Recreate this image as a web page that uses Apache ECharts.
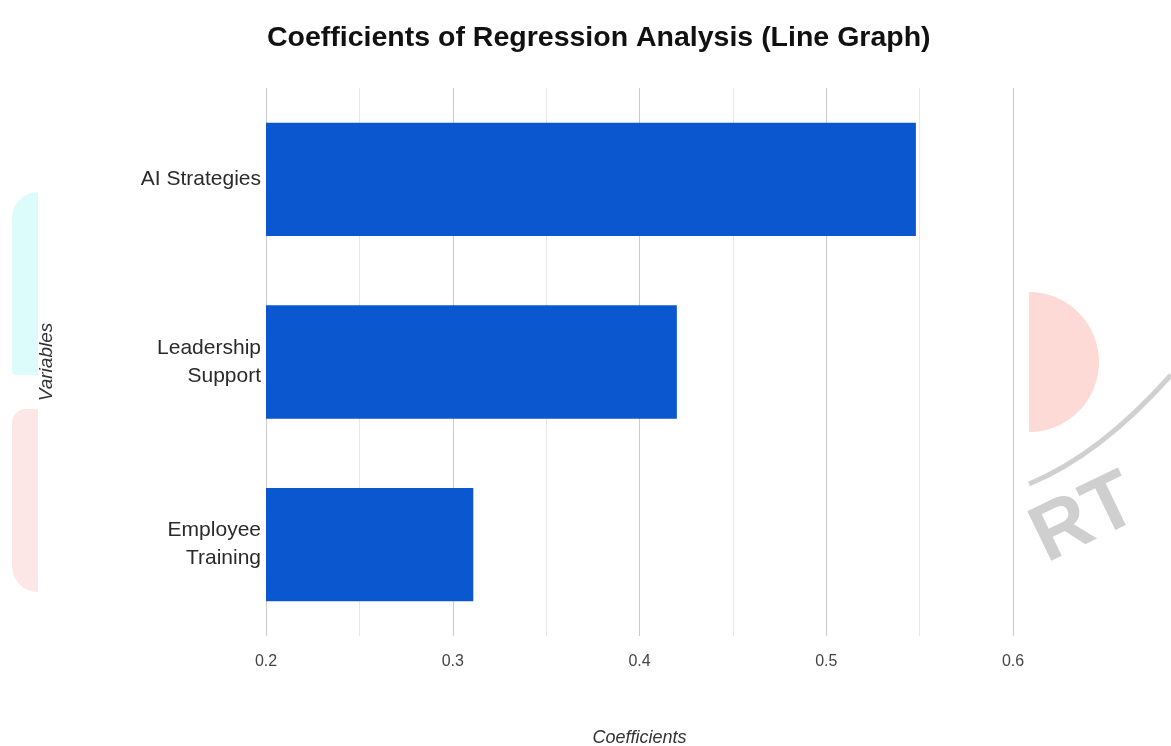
<!DOCTYPE html>
<html>
<head>
<meta charset="utf-8">
<title>Coefficients of Regression Analysis</title>
<script src="https://cdn.jsdelivr.net/npm/echarts@6/dist/echarts.min.js"></script>
<style>
  html, body { margin: 0; padding: 0; background: #fff; }
  #chart { width: 1171px; height: 746px; }
</style>
</head>
<body>
<div id="chart"></div>
<script>
// data
const variables = ['AI Strategies', 'Leadership\nSupport', 'Employee\nTraining']
const coefficients = [0.548, 0.42, 0.311]
const xMin = 0.2
const xMax = 0.6
const xStep = 0.1

const barColor = '#0b57cf'
const font = '"Liberation Sans", Arial, sans-serif'

const chart = echarts.init(document.getElementById('chart'))

const option = {
  backgroundColor: '#fff',
  animation: false,
  title: {
    text: 'Coefficients of Regression Analysis (Line Graph)',
    left: 262,
    top: 19,
    textStyle: { fontFamily: font, fontSize: 28.5, fontWeight: 'bold', color: '#111' }
  },
  grid: { left: 266, right: 158, top: 88, bottom: 110, outerBoundsMode: 'none' },
  xAxis: {
    type: 'value',
    min: xMin,
    max: xMax,
    interval: xStep,
    name: 'Coefficients',
    nameLocation: 'middle',
    nameGap: 93,
    nameTextStyle: { fontFamily: font, fontSize: 18, fontStyle: 'italic', color: '#333' },
    axisLine: { show: false },
    axisTick: { show: false },
    axisLabel: {
      fontFamily: font, fontSize: 16, color: '#444', margin: 18,
      formatter: v => v.toFixed(1)
    },
    splitLine: { show: true, lineStyle: { color: '#cccccc', width: 1 } },
    minorTick: { show: false, splitNumber: 2 },
    minorSplitLine: { show: true, lineStyle: { color: '#e8e8e8', width: 1 } }
  },
  yAxis: {
    type: 'category',
    data: variables,
    inverse: true,
    name: 'Variables',
    nameLocation: 'middle',
    nameGap: 210,
    nameRotate: 90,
    nameTextStyle: { fontFamily: font, fontSize: 19, fontStyle: 'italic', color: '#333' },
    axisLine: { show: false },
    axisTick: { show: false },
    axisLabel: {
      fontFamily: font, fontSize: 21, color: '#2a2a2a', margin: 5, lineHeight: 28,
      padding: [4, 0, 0, 0]
    },
    splitLine: { show: false }
  },
  series: [{
    type: 'bar',
    data: coefficients,
    barWidth: '62%',
    itemStyle: { color: barColor }
  }],
  // faint watermark shapes behind the plot
  graphic: [
    {
      type: 'rect', z: -10, silent: true,
      shape: { x: 12, y: 192, width: 26, height: 183, r: [26, 0, 0, 4] },
      style: { fill: '#dcfcfc' }
    },
    {
      type: 'rect', z: -10, silent: true,
      shape: { x: 12, y: 409, width: 26, height: 183, r: [14, 0, 0, 26] },
      style: { fill: '#fde6e6' }
    },
    {
      type: 'sector', z: -10, silent: true,
      shape: { cx: 1029, cy: 362, r: 70, r0: 0, startAngle: -Math.PI / 2, endAngle: Math.PI / 2 },
      style: { fill: '#fddad5' }
    },
    {
      type: 'bezierCurve', z: -10, silent: true,
      shape: { x1: 1029, y1: 484, x2: 1171, y2: 375, cpx1: 1100, cpy1: 455 },
      style: { stroke: '#d0d0d0', lineWidth: 5, fill: null }
    },
    {
      type: 'text', z: -10, silent: true,
      x: 1085, y: 520, rotation: 0.45,
      style: {
        text: 'RT', fill: '#cfcfcf', fontSize: 80, fontWeight: 'bold',
        fontFamily: font, align: 'center', verticalAlign: 'middle'
      }
    }
  ]
}

chart.setOption(option)
</script>
</body>
</html>
